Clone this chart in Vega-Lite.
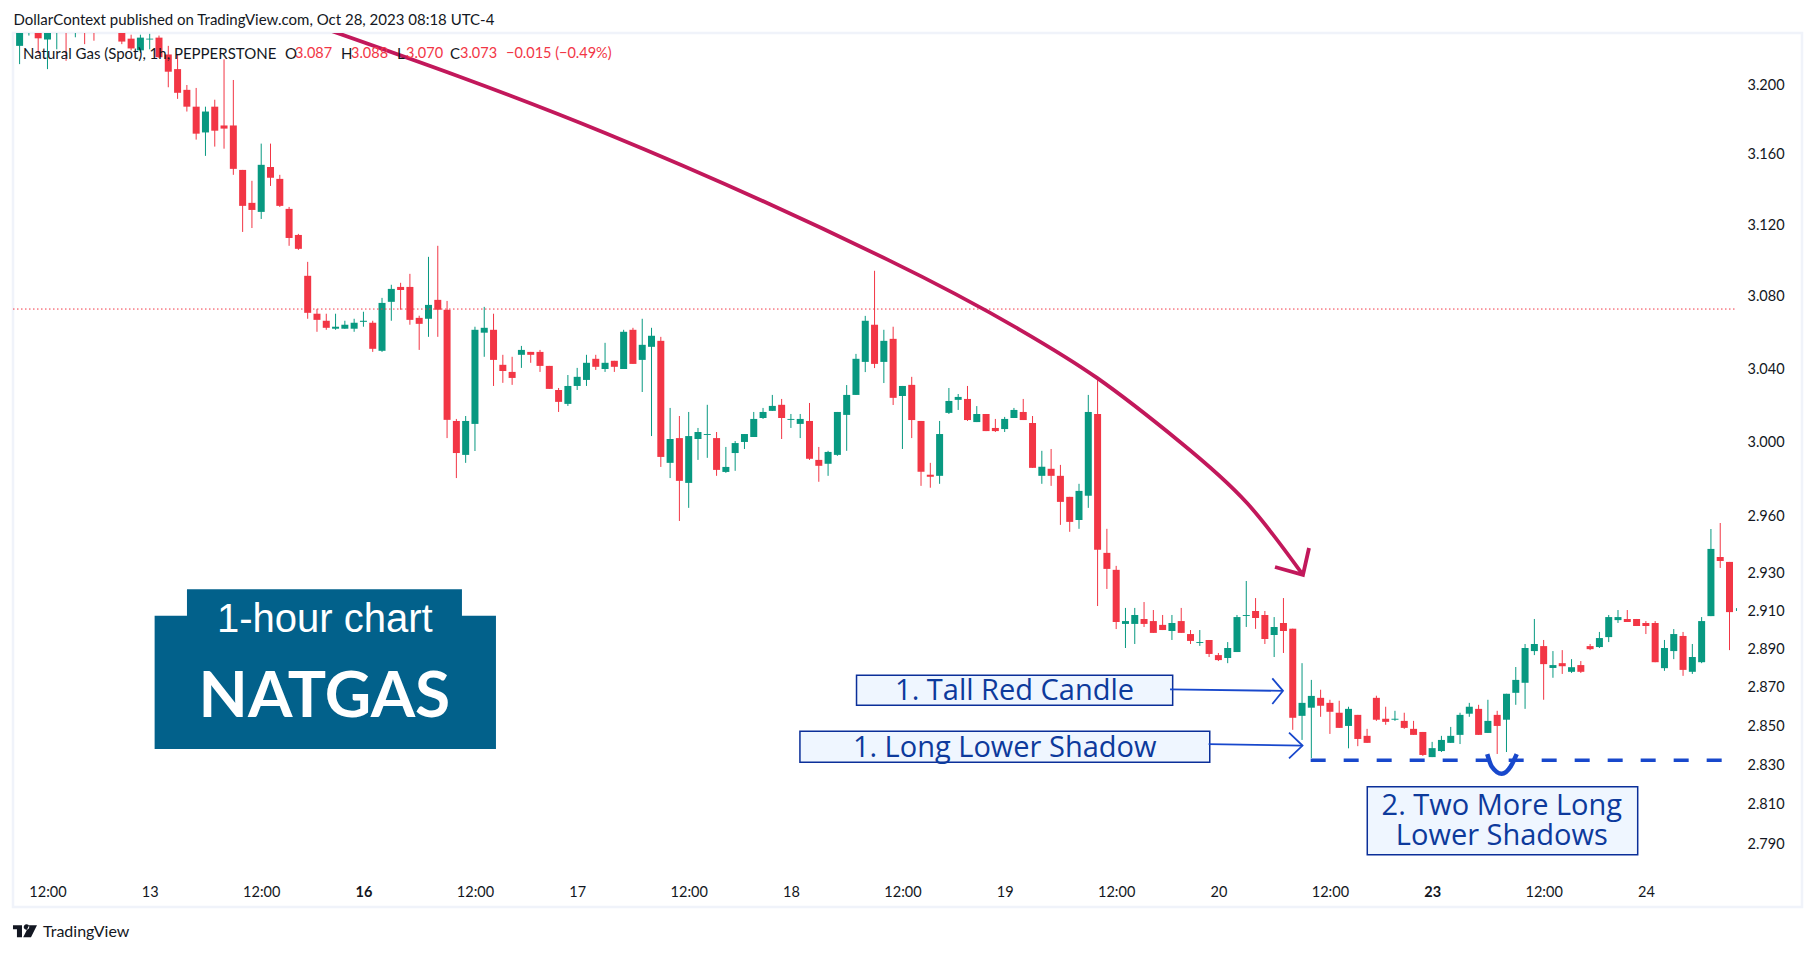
{"$schema":"https://vega.github.io/schema/vega-lite/v6.json","width":1789,"height":874,"autosize":"none","padding":{"left":13,"top":33,"right":13,"bottom":46},"background":"white","view":{"stroke":"#f0f3fa","strokeWidth":2.5},
"config":{"axis":{"title":null,"grid":false,"domain":false,"ticks":false}},
"resolve":{"axis":{"x":"independent","y":"independent"}},
"datasets":{"candles":[
{"bar":0,"o":3.222,"h":3.24,"l":3.2114,"c":3.235},{"bar":1,"o":3.233,"h":3.24,"l":3.228,"c":3.238},{"bar":2,"o":3.232,"h":3.236,"l":3.2175,"c":3.2264},{"bar":3,"o":3.2257,"h":3.236,"l":3.2085,"c":3.234},{"bar":4,"o":3.232,"h":3.24,"l":3.22,"c":3.238},{"bar":5,"o":3.24,"h":3.242,"l":3.2133,"c":3.233},{"bar":6,"o":3.233,"h":3.24,"l":3.227,"c":3.237},{"bar":7,"o":3.236,"h":3.24,"l":3.223,"c":3.232},{"bar":8,"o":3.236,"h":3.24,"l":3.225,"c":3.232},{"bar":9,"o":3.238,"h":3.244,"l":3.232,"c":3.242},{"bar":10,"o":3.242,"h":3.244,"l":3.232,"c":3.238},{"bar":11,"o":3.232,"h":3.236,"l":3.223,"c":3.2245},{"bar":12,"o":3.2262,"h":3.2285,"l":3.2194,"c":3.2205},{"bar":13,"o":3.2194,"h":3.2285,"l":3.218,"c":3.2268},{"bar":14,"o":3.2257,"h":3.229,"l":3.22,"c":3.2262},{"bar":15,"o":3.2268,"h":3.228,"l":3.215,"c":3.2154},{"bar":16,"o":3.217,"h":3.222,"l":3.198,"c":3.207},{"bar":17,"o":3.2085,"h":3.217,"l":3.1913,"c":3.1948},{"bar":18,"o":3.1965,"h":3.1993,"l":3.184,"c":3.1868},{"bar":19,"o":3.1868,"h":3.1976,"l":3.1679,"c":3.1713},
{"bar":20,"o":3.172,"h":3.1868,"l":3.1586,"c":3.184},{"bar":21,"o":3.1868,"h":3.1908,"l":3.1639,"c":3.173},{"bar":22,"o":3.176,"h":3.2142,"l":3.1627,"c":3.1742},{"bar":23,"o":3.176,"h":3.2022,"l":3.1478,"c":3.1512},{"bar":24,"o":3.1506,"h":3.1506,"l":3.1155,"c":3.1302},{"bar":25,"o":3.1319,"h":3.1444,"l":3.1177,"c":3.1279},{"bar":26,"o":3.1268,"h":3.1656,"l":3.1228,"c":3.1535},{"bar":27,"o":3.1523,"h":3.1656,"l":3.1415,"c":3.1461},{"bar":28,"o":3.1455,"h":3.1478,"l":3.1296,"c":3.1302},{"bar":29,"o":3.1285,"h":3.1296,"l":3.1077,"c":3.1121},{"bar":30,"o":3.1138,"h":3.1144,"l":3.1054,"c":3.106},{"bar":31,"o":3.0909,"h":3.0987,"l":3.067,"c":3.0703},{"bar":32,"o":3.0698,"h":3.0725,"l":3.0598,"c":3.0664},{"bar":33,"o":3.0659,"h":3.0698,"l":3.0609,"c":3.062},{"bar":34,"o":3.0615,"h":3.0698,"l":3.0609,"c":3.0626},{"bar":35,"o":3.0615,"h":3.0659,"l":3.0615,"c":3.0637},{"bar":36,"o":3.0615,"h":3.067,"l":3.0598,"c":3.0648},{"bar":37,"o":3.0653,"h":3.0709,"l":3.0626,"c":3.0659},{"bar":38,"o":3.0648,"h":3.0659,"l":3.0487,"c":3.0504},{"bar":39,"o":3.0493,"h":3.0786,"l":3.0487,"c":3.0758},
{"bar":40,"o":3.0764,"h":3.0859,"l":3.0659,"c":3.0836},{"bar":41,"o":3.0847,"h":3.087,"l":3.072,"c":3.083},{"bar":42,"o":3.0847,"h":3.092,"l":3.0637,"c":3.0664},{"bar":43,"o":3.0675,"h":3.0687,"l":3.0498,"c":3.0642},{"bar":44,"o":3.067,"h":3.1015,"l":3.057,"c":3.0747},{"bar":45,"o":3.0775,"h":3.1077,"l":3.057,"c":3.072},{"bar":46,"o":3.072,"h":3.0769,"l":3.0016,"c":3.0115},{"bar":47,"o":3.0109,"h":3.012,"l":2.98,"c":2.9935},{"bar":48,"o":2.9925,"h":3.0136,"l":2.9882,"c":3.0109},{"bar":49,"o":3.0093,"h":3.0626,"l":2.9946,"c":3.0609},{"bar":50,"o":3.0593,"h":3.0736,"l":3.046,"c":3.062},{"bar":51,"o":3.0609,"h":3.0698,"l":3.03,"c":3.0443},{"bar":52,"o":3.0416,"h":3.0471,"l":3.0317,"c":3.0382},{"bar":53,"o":3.0377,"h":3.046,"l":3.0306,"c":3.0344},{"bar":54,"o":3.0471,"h":3.052,"l":3.0399,"c":3.0498},{"bar":55,"o":3.0487,"h":3.0487,"l":3.0427,"c":3.0471},{"bar":56,"o":3.0487,"h":3.0498,"l":3.0377,"c":3.041},{"bar":57,"o":3.041,"h":3.041,"l":3.0284,"c":3.0284},{"bar":58,"o":3.0278,"h":3.0289,"l":3.0158,"c":3.0213},{"bar":59,"o":3.0202,"h":3.036,"l":3.0191,"c":3.03},
{"bar":60,"o":3.03,"h":3.0399,"l":3.0278,"c":3.035},{"bar":61,"o":3.0333,"h":3.0471,"l":3.03,"c":3.0427},{"bar":62,"o":3.0449,"h":3.0471,"l":3.0388,"c":3.0405},{"bar":63,"o":3.0393,"h":3.0537,"l":3.0377,"c":3.0427},{"bar":64,"o":3.0438,"h":3.0438,"l":3.0377,"c":3.0405},{"bar":65,"o":3.0393,"h":3.0609,"l":3.0393,"c":3.0598},{"bar":66,"o":3.0609,"h":3.062,"l":3.0421,"c":3.0421},{"bar":67,"o":3.0443,"h":3.067,"l":3.0267,"c":3.0526},{"bar":68,"o":3.0515,"h":3.062,"l":3.0027,"c":3.0576},{"bar":69,"o":3.0548,"h":3.057,"l":2.986,"c":2.9914},{"bar":70,"o":2.9882,"h":3.018,"l":2.98,"c":3.0011},{"bar":71,"o":3.0016,"h":3.0136,"l":2.957,"c":2.9785},{"bar":72,"o":2.9774,"h":3.0158,"l":2.964,"c":3.0027},{"bar":73,"o":3.0011,"h":3.0071,"l":2.9898,"c":3.0049},{"bar":74,"o":3.0033,"h":3.0197,"l":2.9909,"c":3.0038},{"bar":75,"o":3.0016,"h":3.0049,"l":2.9812,"c":2.9844},{"bar":76,"o":2.9833,"h":2.9968,"l":2.9828,"c":2.986},{"bar":77,"o":2.9935,"h":3.0,"l":2.9839,"c":2.9989},{"bar":78,"o":2.9995,"h":3.0038,"l":2.9957,"c":3.0038},{"bar":79,"o":3.0022,"h":3.0158,"l":3.0022,"c":3.012},
{"bar":80,"o":3.0125,"h":3.018,"l":3.012,"c":3.0158},{"bar":81,"o":3.0164,"h":3.0251,"l":3.0164,"c":3.0191},{"bar":82,"o":3.0197,"h":3.0229,"l":3.0011,"c":3.0125},{"bar":83,"o":3.0115,"h":3.0147,"l":3.0071,"c":3.012},{"bar":84,"o":3.0093,"h":3.0147,"l":3.0016,"c":3.012},{"bar":85,"o":3.0109,"h":3.0207,"l":2.9898,"c":2.9904},{"bar":86,"o":2.9898,"h":2.9968,"l":2.978,"c":2.9866},{"bar":87,"o":2.9877,"h":2.9947,"l":2.9812,"c":2.9941},{"bar":88,"o":2.9925,"h":3.0158,"l":2.992,"c":3.0158},{"bar":89,"o":3.0142,"h":3.0305,"l":2.9947,"c":3.0251},{"bar":90,"o":3.0251,"h":3.0476,"l":3.0251,"c":3.0449},{"bar":91,"o":3.0432,"h":3.0686,"l":3.0376,"c":3.0659},{"bar":92,"o":3.0637,"h":3.0937,"l":3.0398,"c":3.0421},{"bar":93,"o":3.0432,"h":3.0609,"l":3.0316,"c":3.0548},{"bar":94,"o":3.0559,"h":3.0626,"l":3.0196,"c":3.0235},{"bar":95,"o":3.0245,"h":3.03,"l":2.9957,"c":3.03},{"bar":96,"o":3.0306,"h":3.035,"l":3.0016,"c":3.0114},{"bar":97,"o":3.0109,"h":3.0109,"l":2.9758,"c":2.9834},{"bar":98,"o":2.9818,"h":2.9882,"l":2.9748,"c":2.9807},{"bar":99,"o":2.9812,"h":3.0109,"l":2.9769,"c":3.0038},
{"bar":100,"o":3.0153,"h":3.0289,"l":3.0147,"c":3.0218},{"bar":101,"o":3.0224,"h":3.0256,"l":3.0169,"c":3.024},{"bar":102,"o":3.0229,"h":3.03,"l":3.0109,"c":3.0114},{"bar":103,"o":3.0103,"h":3.019,"l":3.0103,"c":3.0147},{"bar":104,"o":3.0147,"h":3.0147,"l":3.0054,"c":3.0054},{"bar":105,"o":3.0071,"h":3.012,"l":3.0049,"c":3.0054},{"bar":106,"o":3.0065,"h":3.0131,"l":3.0049,"c":3.012},{"bar":107,"o":3.0125,"h":3.018,"l":3.0125,"c":3.0169},{"bar":108,"o":3.0158,"h":3.0229,"l":3.0114,"c":3.0114},{"bar":109,"o":3.0098,"h":3.0136,"l":2.9855,"c":2.9855},{"bar":110,"o":2.9812,"h":2.9947,"l":2.9769,"c":2.9861},{"bar":111,"o":2.985,"h":2.9957,"l":2.9758,"c":2.9812},{"bar":112,"o":2.9812,"h":2.9871,"l":2.9549,"c":2.9672},{"bar":113,"o":2.9699,"h":2.9699,"l":2.9512,"c":2.9565},{"bar":114,"o":2.9575,"h":2.9769,"l":2.9528,"c":2.9731},{"bar":115,"o":2.9705,"h":3.0251,"l":2.964,"c":3.0158},{"bar":116,"o":3.0147,"h":3.0333,"l":2.9119,"c":2.9416},{"bar":117,"o":2.94,"h":2.9528,"l":2.9209,"c":2.9315},{"bar":118,"o":2.931,"h":2.9331,"l":2.8998,"c":2.9035},{"bar":119,"o":2.9025,"h":2.9109,"l":2.8899,"c":2.904},
{"bar":120,"o":2.9025,"h":2.9109,"l":2.892,"c":2.9072},{"bar":121,"o":2.9051,"h":2.914,"l":2.9009,"c":2.9025},{"bar":122,"o":2.904,"h":2.9098,"l":2.8978,"c":2.8978},{"bar":123,"o":2.902,"h":2.9072,"l":2.8993,"c":2.8993},{"bar":124,"o":2.8988,"h":2.9072,"l":2.8941,"c":2.903},{"bar":125,"o":2.904,"h":2.9109,"l":2.8978,"c":2.8978},{"bar":126,"o":2.8972,"h":2.8993,"l":2.892,"c":2.8936},{"bar":127,"o":2.8925,"h":2.8993,"l":2.891,"c":2.893},{"bar":128,"o":2.8941,"h":2.8941,"l":2.8852,"c":2.8868},{"bar":129,"o":2.8862,"h":2.8873,"l":2.8831,"c":2.8836},{"bar":130,"o":2.8847,"h":2.893,"l":2.882,"c":2.8899},{"bar":131,"o":2.8878,"h":2.9072,"l":2.8878,"c":2.9061},{"bar":132,"o":2.9067,"h":2.9251,"l":2.9009,"c":2.9072},{"bar":133,"o":2.9093,"h":2.9161,"l":2.8999,"c":2.9056},{"bar":134,"o":2.9072,"h":2.9093,"l":2.892,"c":2.8946},{"bar":135,"o":2.8967,"h":2.9061,"l":2.8852,"c":2.9009},{"bar":136,"o":2.903,"h":2.9161,"l":2.8873,"c":2.8988},{"bar":137,"o":2.9,"h":2.9,"l":2.8475,"c":2.8537},{"bar":138,"o":2.8547,"h":2.882,"l":2.8423,"c":2.8614},{"bar":139,"o":2.8589,"h":2.8733,"l":2.833,"c":2.865},
{"bar":140,"o":2.864,"h":2.8682,"l":2.8542,"c":2.8599},{"bar":141,"o":2.8614,"h":2.863,"l":2.8454,"c":2.8568},{"bar":142,"o":2.8563,"h":2.8625,"l":2.8485,"c":2.8485},{"bar":143,"o":2.8495,"h":2.8594,"l":2.838,"c":2.8583},{"bar":144,"o":2.8552,"h":2.8552,"l":2.8391,"c":2.8428},{"bar":145,"o":2.8444,"h":2.848,"l":2.8408,"c":2.8408},{"bar":146,"o":2.864,"h":2.8651,"l":2.8521,"c":2.8527},{"bar":147,"o":2.8532,"h":2.8594,"l":2.8501,"c":2.8516},{"bar":148,"o":2.8527,"h":2.8573,"l":2.8521,"c":2.8532},{"bar":149,"o":2.8521,"h":2.8563,"l":2.848,"c":2.8485},{"bar":150,"o":2.848,"h":2.8521,"l":2.8449,"c":2.8449},{"bar":151,"o":2.8464,"h":2.8464,"l":2.8341,"c":2.8346},{"bar":152,"o":2.8335,"h":2.8413,"l":2.8335,"c":2.8381},{"bar":153,"o":2.8366,"h":2.8444,"l":2.8361,"c":2.8423},{"bar":154,"o":2.8408,"h":2.849,"l":2.8408,"c":2.8444},{"bar":155,"o":2.8449,"h":2.8563,"l":2.8402,"c":2.8552},{"bar":156,"o":2.8558,"h":2.8614,"l":2.8542,"c":2.8594},{"bar":157,"o":2.8583,"h":2.8604,"l":2.8449,"c":2.8449},{"bar":158,"o":2.8459,"h":2.863,"l":2.8459,"c":2.8521},{"bar":159,"o":2.8552,"h":2.8573,"l":2.8351,"c":2.8495},
{"bar":160,"o":2.8527,"h":2.8661,"l":2.8361,"c":2.8661},{"bar":161,"o":2.8666,"h":2.88,"l":2.8604,"c":2.8733},{"bar":162,"o":2.8718,"h":2.892,"l":2.8583,"c":2.8899},{"bar":163,"o":2.8883,"h":2.9051,"l":2.8862,"c":2.892},{"bar":164,"o":2.8909,"h":2.8941,"l":2.863,"c":2.8815},{"bar":165,"o":2.8795,"h":2.8883,"l":2.8744,"c":2.881},{"bar":166,"o":2.882,"h":2.8888,"l":2.8764,"c":2.8804},{"bar":167,"o":2.8775,"h":2.8841,"l":2.8769,"c":2.8799},{"bar":168,"o":2.881,"h":2.8831,"l":2.8769,"c":2.8775},{"bar":169,"o":2.8909,"h":2.892,"l":2.8888,"c":2.8893},{"bar":170,"o":2.8904,"h":2.8983,"l":2.8899,"c":2.8951},{"bar":171,"o":2.8956,"h":2.9072,"l":2.893,"c":2.9061},{"bar":172,"o":2.9045,"h":2.9098,"l":2.903,"c":2.9061},{"bar":173,"o":2.9051,"h":2.9098,"l":2.9035,"c":2.9035},{"bar":174,"o":2.9051,"h":2.9051,"l":2.9014,"c":2.9014},{"bar":175,"o":2.903,"h":2.904,"l":2.8972,"c":2.9014},{"bar":176,"o":2.903,"h":2.904,"l":2.8825,"c":2.8825},{"bar":177,"o":2.8794,"h":2.8941,"l":2.878,"c":2.8899},{"bar":178,"o":2.8883,"h":2.8998,"l":2.8841,"c":2.8972},{"bar":179,"o":2.8962,"h":2.8983,"l":2.8754,"c":2.8785},
{"bar":180,"o":2.8775,"h":2.892,"l":2.8764,"c":2.8852},{"bar":181,"o":2.8825,"h":2.9061,"l":2.882,"c":2.904},{"bar":182,"o":2.9066,"h":2.9527,"l":2.9066,"c":2.9421},{"bar":183,"o":2.9378,"h":2.9559,"l":2.932,"c":2.9357},{"bar":184,"o":2.9352,"h":2.9352,"l":2.8888,"c":2.9087},{"bar":184.75,"o":2.9101,"h":2.9108,"l":2.9093,"c":2.9101}
]},
"layer":[
{"data":{"name":"candles"},"mark":{"type":"rule","strokeWidth":1,"clip":true},"encoding":{"x":{"field":"bar","type":"quantitative","scale":{"domain":[-0.71,191.8],"zero":false,"nice":false,"padding":0},"axis":{"orient":"bottom","values":[3,14,26,37,49,60,72,83,95,106,118,129,141,152,164,175],"labelExpr":"datum.value==14?'13':datum.value==37?'16':datum.value==60?'17':datum.value==83?'18':datum.value==106?'19':datum.value==129?'20':datum.value==152?'23':datum.value==175?'24':'12:00'","labelFontWeight":{"condition":{"test":"datum.value==37||datum.value==152","value":"bold"},"value":"normal"},"labelPadding":-22,"labelFont":"Lato","labelFontSize":14.5,"labelColor":"#131722","labelOverlap":false,"labelFlush":false,"labelBound":false}},"y":{"field":"l","type":"quantitative","scale":{"type":"log","domain":[2.7578,3.2295],"nice":false,"zero":false},"axis":{"orient":"right","values":[2.79,2.81,2.83,2.85,2.87,2.89,2.91,2.93,2.96,3.0,3.04,3.08,3.12,3.16,3.2],"format":".3f","labelPadding":-55,"labelOffset":1.5,"labelFont":"Lato","labelFontSize":14.5,"labelColor":"#131722","labelOverlap":false,"labelFlush":false,"labelBound":false}},"y2":{"field":"h"},"color":{"condition":{"test":"datum.c>=datum.o","value":"#089981"},"value":"#f23645"}}},
{"data":{"name":"candles"},"transform":[{"filter":"datum.bar<184.5"}],"mark":{"type":"bar","orient":"vertical","size":7,"clip":true},"encoding":{"x":{"field":"bar","type":"quantitative","scale":{"domain":[-0.71,191.8],"zero":false,"nice":false,"padding":0},"axis":null},"y":{"field":"o","type":"quantitative","scale":{"type":"log","domain":[2.7578,3.2295],"nice":false,"zero":false},"axis":null},"y2":{"field":"c"},"color":{"condition":{"test":"datum.c>=datum.o","value":"#089981"},"value":"#f23645"}}},
{"data":{"values":[{"from":-0.71,"to":184.75,"price":3.0724}]},"mark":{"type":"rule","color":"#f23645","strokeWidth":1,"strokeDash":[1.5,2.5]},"encoding":{"x":{"field":"from","type":"quantitative","scale":{"domain":[-0.71,191.8],"zero":false,"nice":false,"padding":0},"axis":null},"x2":{"field":"to"},"y":{"field":"price","type":"quantitative","scale":{"type":"log","domain":[2.7578,3.2295],"nice":false,"zero":false},"axis":null}}},
{"data":{"values":[{"x1":14.53,"x2":51.26,"y1":2.9068,"y2":2.8377},{"x1":18.01,"x2":47.6,"y1":2.9207,"y2":2.9066}]},"mark":{"type":"rect","color":"#02618b"},"encoding":{"x":{"field":"x1","type":"quantitative","scale":{"domain":[-0.71,191.8],"zero":false,"nice":false,"padding":0},"axis":null},"x2":{"field":"x2"},"y":{"field":"y1","type":"quantitative","scale":{"type":"log","domain":[2.7578,3.2295],"nice":false,"zero":false},"axis":null},"y2":{"field":"y2"}}},
{"data":{"values":[{"x1":90.06,"x2":124.08,"y1":2.8757,"y2":2.8602},{"x1":83.97,"x2":128.07,"y1":2.8468,"y2":2.8309},{"x1":145.02,"x2":174.12,"y1":2.8184,"y2":2.7839}]},"mark":{"type":"rect","fill":"#eff6ff","stroke":"#0b2f99","strokeWidth":1.5},"encoding":{"x":{"field":"x1","type":"quantitative","scale":{"domain":[-0.71,191.8],"zero":false,"nice":false,"padding":0},"axis":null},"x2":{"field":"x2"},"y":{"field":"y1","type":"quantitative","scale":{"type":"log","domain":[2.7578,3.2295],"nice":false,"zero":false},"axis":null},"y2":{"field":"y2"}}},
{"data":{"values":[{"bar":32.3,"price":3.2331},{"bar":63.0,"price":3.1717},{"bar":93.45,"price":3.0998},{"bar":107.65,"price":3.0609},{"bar":115.94,"price":3.0344},{"bar":124.87,"price":2.9995},{"bar":132.08,"price":2.9666},{"bar":138.1,"price":2.9283}]},"mark":{"type":"line","color":"#c2185b","strokeWidth":3.8,"interpolate":"natural","clip":true},"encoding":{"x":{"field":"bar","type":"quantitative","scale":{"domain":[-0.71,191.8],"zero":false,"nice":false,"padding":0},"axis":null},"y":{"field":"price","type":"quantitative","scale":{"type":"log","domain":[2.7578,3.2295],"nice":false,"zero":false},"axis":null}}},
{"data":{"values":[{"bar":135.09,"price":2.9325},{"bar":138.1,"price":2.9283},{"bar":138.75,"price":2.9426}]},"mark":{"type":"line","color":"#c2185b","strokeWidth":3.8},"encoding":{"x":{"field":"bar","type":"quantitative","scale":{"domain":[-0.71,191.8],"zero":false,"nice":false,"padding":0},"axis":null},"y":{"field":"price","type":"quantitative","scale":{"type":"log","domain":[2.7578,3.2295],"nice":false,"zero":false},"axis":null}}},
{"data":{"values":[{"a":"tall","seq":1,"bar":123.8,"price":2.8684},{"a":"tall","seq":2,"bar":135.95,"price":2.8676},{"a":"tallhead","seq":1,"bar":134.8,"price":2.8741},{"a":"tallhead","seq":2,"bar":135.95,"price":2.8676},{"a":"tallhead","seq":3,"bar":134.8,"price":2.8608},{"a":"long","seq":1,"bar":127.95,"price":2.8402},{"a":"long","seq":2,"bar":138.05,"price":2.8394},{"a":"longhead","seq":1,"bar":136.6,"price":2.8461},{"a":"longhead","seq":2,"bar":138.05,"price":2.8394},{"a":"longhead","seq":3,"bar":136.6,"price":2.8328}]},"mark":{"type":"line","color":"#1848cc","strokeWidth":1.8},"encoding":{"x":{"field":"bar","type":"quantitative","scale":{"domain":[-0.71,191.8],"zero":false,"nice":false,"padding":0},"axis":null},"y":{"field":"price","type":"quantitative","scale":{"type":"log","domain":[2.7578,3.2295],"nice":false,"zero":false},"axis":null},"detail":{"field":"a"},"order":{"field":"seq"}}},
{"data":{"values":[{"bar":138.93,"price":2.8319},{"bar":183.2,"price":2.8319}]},"mark":{"type":"line","color":"#1848cc","strokeWidth":3.5,"strokeDash":[15,18]},"encoding":{"x":{"field":"bar","type":"quantitative","scale":{"domain":[-0.71,191.8],"zero":false,"nice":false,"padding":0},"axis":null},"y":{"field":"price","type":"quantitative","scale":{"type":"log","domain":[2.7578,3.2295],"nice":false,"zero":false},"axis":null}}},
{"data":{"values":[{"bar":157.93,"price":2.835},{"bar":158.41,"price":2.8287},{"bar":159.49,"price":2.825},{"bar":160.45,"price":2.8287},{"bar":161.1,"price":2.835}]},"mark":{"type":"line","color":"#1848cc","strokeWidth":4.5,"interpolate":"monotone"},"encoding":{"x":{"field":"bar","type":"quantitative","scale":{"domain":[-0.71,191.8],"zero":false,"nice":false,"padding":0},"axis":null},"y":{"field":"price","type":"quantitative","scale":{"type":"log","domain":[2.7578,3.2295],"nice":false,"zero":false},"axis":null}}},
{"data":{"values":[{"bar":107.07,"price":2.8675,"label":"1. Tall Red Candle"},{"bar":106.0,"price":2.8383,"label":"1. Long Lower Shadow"},{"bar":159.5,"price":2.8087,"label":"2. Two More Long"},{"bar":159.5,"price":2.7935,"label":"Lower Shadows"}]},"mark":{"type":"text","font":"Open Sans","fontSize":29,"color":"#0d3a9c","align":"center","baseline":"middle"},"encoding":{"x":{"field":"bar","type":"quantitative","scale":{"domain":[-0.71,191.8],"zero":false,"nice":false,"padding":0},"axis":null},"y":{"field":"price","type":"quantitative","scale":{"type":"log","domain":[2.7578,3.2295],"nice":false,"zero":false},"axis":null},"text":{"field":"label"}}},
{"data":{"values":[{"bar":32.85,"price":2.9044,"label":"1-hour chart"}]},"mark":{"type":"text","font":"Liberation Sans","fontSize":40,"color":"white","align":"center","baseline":"middle"},"encoding":{"x":{"field":"bar","type":"quantitative","scale":{"domain":[-0.71,191.8],"zero":false,"nice":false,"padding":0},"axis":null},"y":{"field":"price","type":"quantitative","scale":{"type":"log","domain":[2.7578,3.2295],"nice":false,"zero":false},"axis":null},"text":{"field":"label"}}},
{"data":{"values":[{"bar":32.8,"price":2.8637,"label":"NATGAS"}]},"mark":{"type":"text","font":"Lato","fontWeight":"bold","fontSize":64,"color":"white","align":"center","baseline":"middle"},"encoding":{"x":{"field":"bar","type":"quantitative","scale":{"domain":[-0.71,191.8],"zero":false,"nice":false,"padding":0},"axis":null},"y":{"field":"price","type":"quantitative","scale":{"type":"log","domain":[2.7578,3.2295],"nice":false,"zero":false},"axis":null},"text":{"field":"label"}}},
{"data":{"values":[{"bar":-0.66,"price":3.2369,"label":"DollarContext published on TradingView.com, Oct 28, 2023 08:18 UTC-4"},{"bar":0.37,"price":3.2174,"label":"Natural Gas (Spot), 1h, PEPPERSTONE"},{"bar":28.56,"price":3.2174,"label":"O"},{"bar":34.59,"price":3.2174,"label":"H"},{"bar":40.61,"price":3.2174,"label":"L"},{"bar":46.31,"price":3.2174,"label":"C"}]},"mark":{"type":"text","font":"Lato","fontSize":15,"color":"#131722","align":"left","baseline":"middle"},"encoding":{"x":{"field":"bar","type":"quantitative","scale":{"domain":[-0.71,191.8],"zero":false,"nice":false,"padding":0},"axis":null},"y":{"field":"price","type":"quantitative","scale":{"type":"log","domain":[2.7578,3.2295],"nice":false,"zero":false},"axis":null},"text":{"field":"label"}}},
{"data":{"values":[{"bar":2.52,"price":2.7455,"label":"TradingView"}]},"mark":{"type":"text","font":"Lato","fontSize":16,"color":"#131722","align":"left","baseline":"middle"},"encoding":{"x":{"field":"bar","type":"quantitative","scale":{"domain":[-0.71,191.8],"zero":false,"nice":false,"padding":0},"axis":null},"y":{"field":"price","type":"quantitative","scale":{"type":"log","domain":[2.7578,3.2295],"nice":false,"zero":false},"axis":null},"text":{"field":"label"}}},
{"data":{"values":[{"bar":29.64,"price":3.2174,"label":"3.087"},{"bar":35.66,"price":3.2174,"label":"3.088"},{"bar":41.58,"price":3.2174,"label":"3.070"},{"bar":47.39,"price":3.2174,"label":"3.073"},{"bar":52.34,"price":3.2174,"label":"−0.015 (−0.49%)"}]},"mark":{"type":"text","font":"Lato","fontSize":14.5,"color":"#f23645","align":"left","baseline":"middle"},"encoding":{"x":{"field":"bar","type":"quantitative","scale":{"domain":[-0.71,191.8],"zero":false,"nice":false,"padding":0},"axis":null},"y":{"field":"price","type":"quantitative","scale":{"type":"log","domain":[2.7578,3.2295],"nice":false,"zero":false},"axis":null},"text":{"field":"label"}}},
{"data":{"values":[{"bar":0.58,"price":2.7458}]},"mark":{"type":"point","filled":true,"color":"#131722","opacity":1,"size":576,"shape":"M-1,-.5H-.25V.5H-.67V-.15H-1Z M-.15,.5L.35,-.5H1L.5,.5Z M-.05,-.5A.2,.2 0 1 0 .3,-.2A.2,.2 0 1 0 -.05,-.5Z"},"encoding":{"x":{"field":"bar","type":"quantitative","scale":{"domain":[-0.71,191.8],"zero":false,"nice":false,"padding":0},"axis":null},"y":{"field":"price","type":"quantitative","scale":{"type":"log","domain":[2.7578,3.2295],"nice":false,"zero":false},"axis":null}}}
]}
